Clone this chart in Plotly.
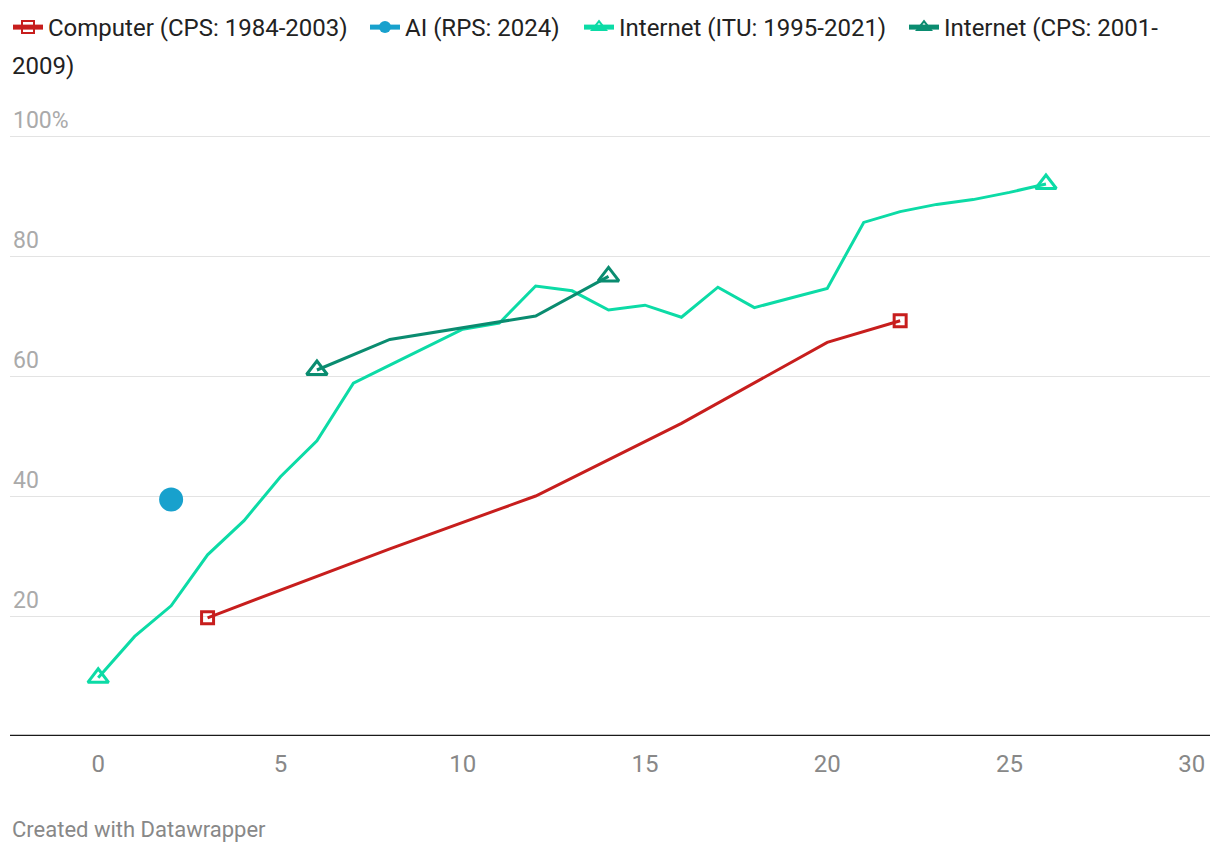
import plotly.graph_objects as go

# ---- data ----
computer_x = [3, 8, 12, 16, 20, 22]
computer_y = [19.7, 31.2, 40.0, 52.1, 65.6, 69.2]

ai_x = [2]
ai_y = [39.4]

itu_x = list(range(0, 27))
itu_y = [9.7, 16.6, 21.7, 30.2, 35.9, 43.2, 49.2, 58.8, 61.8, 64.8, 67.8, 68.8,
         75.0, 74.2, 71.0, 71.8, 69.8, 74.8, 71.4, 73.0, 74.6, 85.6, 87.4, 88.6,
         89.4, 90.6, 92.0]

cps_x = [6, 8, 12, 14]
cps_y = [61.0, 66.1, 70.0, 76.6]

x_ticks = [0, 5, 10, 15, 20, 25, 30]
y_ticks = [20, 40, 60, 80, 100]
y_tick_text = ["20", "40", "60", "80", "100%"]

names = ["Computer (CPS: 1984-2003)", "AI (RPS: 2024)",
         "Internet (ITU: 1995-2021)", "Internet (CPS: 2001-"]
name_wrap = "2009)"

RED = "#c71e1d"
BLUE = "#18a1cd"
LGREEN = "#0cdba6"
DGREEN = "#0a8c70"
FONT = "Roboto"


def end_sizes(n, s):
    return [s if i in (0, n - 1) else 0 for i in range(n)]


fig = go.Figure()
fig.add_trace(go.Scatter(
    x=computer_x, y=computer_y, name=names[0], mode="lines+markers",
    legendwidth=312,
    line=dict(color=RED, width=3),
    marker=dict(symbol="square-open", size=end_sizes(len(computer_x), 12),
                opacity=1, color=RED, line=dict(width=3, color=RED)),
))
fig.add_trace(go.Scatter(
    x=ai_x, y=ai_y, name=names[1], mode="lines+markers",
    legendwidth=169,
    line=dict(color=BLUE, width=3),
    marker=dict(symbol="circle", size=24, color=BLUE, opacity=1),
))
fig.add_trace(go.Scatter(
    x=itu_x, y=itu_y, name=names[2], mode="lines+markers",
    legendwidth=280,
    line=dict(color=LGREEN, width=3),
    marker=dict(symbol="triangle-up-open", size=end_sizes(len(itu_x), 18),
                opacity=1, color=LGREEN, line=dict(width=3, color=LGREEN)),
))
fig.add_trace(go.Scatter(
    x=cps_x, y=cps_y, name=names[3], mode="lines+markers",
    line=dict(color=DGREEN, width=3),
    marker=dict(symbol="triangle-up-open", size=end_sizes(len(cps_x), 18),
                opacity=1, color=DGREEN, line=dict(width=3, color=DGREEN)),
))

fig.add_annotation(text=name_wrap, xref="paper", yref="paper", x=0, y=1.0635,
                   xanchor="left", yanchor="middle", showarrow=False,
                   font=dict(family=FONT, size=24, color="#222"))
fig.add_annotation(text="Created with Datawrapper", xref="paper", yref="paper",
                   x=0, y=-0.149, xanchor="left", yanchor="middle", showarrow=False,
                   font=dict(family=FONT, size=22, color="#888"))

# page body has an 8px default margin: compensate in the figure size/margins
fig.update_layout(
    width=1212, height=844,
    margin=dict(l=2, r=10, t=98, b=116, autoexpand=False),
    paper_bgcolor="white", plot_bgcolor="white",
    font=dict(family=FONT, size=22, color="#222"),
    showlegend=True,
    legend=dict(orientation="h", xref="container", x=0, xanchor="left",
                yref="paper", y=1.1603, yanchor="top", itemsizing="constant",
                font=dict(family=FONT, size=24, color="#222"),
                bgcolor="rgba(0,0,0,0)"),
    xaxis=dict(range=[-2.42, 30.5], tickvals=x_ticks, showgrid=False,
               zeroline=False, showline=False, ticks="",
               ticklabelstandoff=11,
               tickfont=dict(family=FONT, size=24, color="#888")),
    yaxis=dict(range=[0, 105], tickvals=y_ticks, ticktext=y_tick_text,
               showgrid=True, gridcolor="#e3e3e3", gridwidth=1,
               zeroline=False, showline=False, ticks="",
               ticklabelposition="inside top",
               tickfont=dict(family=FONT, size=23, color="#aaa")),
    hovermode=False,
)
fig.add_shape(type="line", xref="paper", yref="y", x0=0, x1=1, y0=0, y1=0,
              line=dict(color="#1a1a1a", width=2.5))

fig.write_html("out.html")
